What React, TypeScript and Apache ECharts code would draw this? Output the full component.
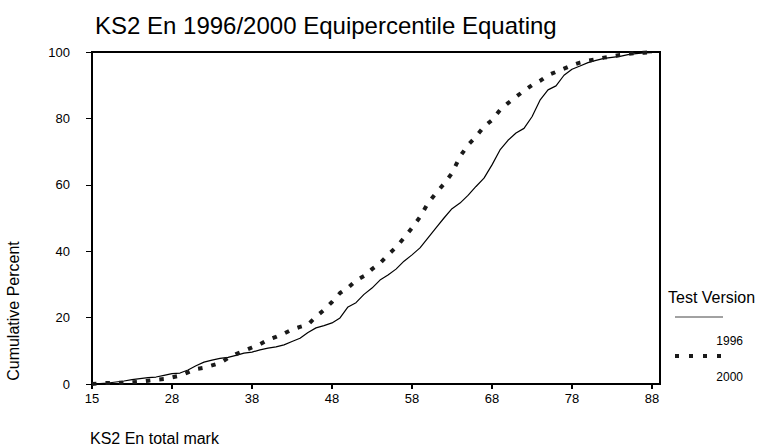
import React, { useEffect, useRef } from "react";
import * as echarts from "echarts";

const marks: string[] = ["15", ...Array.from({ length: 71 }, (_, i) => String(19 + i))];

const v1996: (number | null)[] = [
  0, 0.1, 0.3, 0.6, 0.9, 1.3, 1.6, 1.9, 2.1, 2.6, 3.1,
  3.3, 4.2, 5.5, 6.6, 7.2, 7.7, 8.0, 8.6, 9.3, 9.6,
  10.3, 10.8, 11.2, 11.8, 12.8, 13.8, 15.5, 16.9, 17.6, 18.4,
  19.9, 23.2, 24.5, 27.0, 28.9, 31.3, 32.8, 34.6, 37.0, 38.9,
  41.0, 44.0, 47.0, 50.0, 52.8, 54.5, 56.8, 59.5, 62.0, 66.0,
  70.5, 73.4, 75.6, 77.0, 80.5, 85.5, 88.6, 89.8, 93.0, 94.8,
  95.8, 96.8, 97.5, 98.1, 98.4, 98.7, 99.2, 99.5, 99.7, 99.8,
  null,
];

const v2000: (number | null)[] = [
  0, 0.2, 0.3, 0.4, 0.4, 0.5, 0.7, 1.0, 1.3, 1.5, 2.0,
  2.5, 3.5, 4.5, 4.9, 5.6, 6.3, 7.8, 9.0, 10.0, 11.0,
  12.0, 13.3, 14.2, 15.2, 16.4, 17.2, 17.9, 20.3, 22.3, 24.7,
  27.4, 29.0, 31.2, 32.5, 34.6, 36.4, 38.9, 41.2, 44.0, 47.0,
  50.3, 54.5, 57.5, 60.3, 63.5, 68.5, 72.0, 74.5, 77.5, 79.5,
  82.5, 84.6, 86.5, 88.3, 90.0, 91.3, 93.0, 94.0, 95.0, 96.0,
  96.8, 97.4, 97.8, 98.3, 98.7, 99.1, 99.4, 99.7, 99.8, 99.9,
  null,
];

const seriesNames = ["1996", "2000"];
const FONT = "Liberation Sans, Arial, sans-serif";

export default function App() {
  const ref = useRef<HTMLDivElement>(null);
  useEffect(() => {
    if (!ref.current) return;
    const chart = echarts.init(ref.current, null, { renderer: "svg" });
    chart.setOption({
      animation: false,
      backgroundColor: "#ffffff",
      textStyle: { fontFamily: FONT },
      title: {
        text: "KS2 En 1996/2000 Equipercentile Equating",
        left: 90,
        top: 8,
        textStyle: { fontFamily: FONT, fontSize: 24, fontWeight: "normal", color: "#000" },
      },
      grid: {
        left: 92,
        top: 52,
        right: 104,
        bottom: 64,
        show: true,
        borderColor: "#000",
        borderWidth: 2,
        backgroundColor: "transparent",
      },
      xAxis: {
        type: "category",
        data: marks,
        boundaryGap: false,
        axisLine: { lineStyle: { color: "#000", width: 2 } },
        axisTick: { interval: 9, length: 5, lineStyle: { color: "#000", width: 2 } },
        axisLabel: { interval: 9, color: "#000", fontSize: 13, fontFamily: FONT, margin: 8 },
        splitLine: { show: false },
      },
      yAxis: {
        type: "value",
        min: 0,
        max: 100,
        interval: 20,
        axisLine: { show: true, lineStyle: { color: "#000", width: 2 } },
        axisTick: { show: true, length: 6, lineStyle: { color: "#000", width: 1 } },
        axisLabel: { color: "#000", fontSize: 13, fontFamily: FONT, margin: 22 },
        splitLine: { show: false },
      },
      series: [
        {
          name: seriesNames[0],
          type: "line",
          data: v1996,
          showSymbol: false,
          symbol: "none",
          lineStyle: { color: "#000", width: 1.2, type: "solid" },
        },
        {
          name: seriesNames[1],
          type: "line",
          data: v2000,
          showSymbol: false,
          symbol: "none",
          lineStyle: { color: "#1a1a1a", width: 4, type: [4.5, 9] },
        },
      ],
      graphic: [
        {
          type: "text",
          x: 13,
          y: 311,
          rotation: Math.PI / 2,
          style: {
            text: "Cumulative Percent",
            fontSize: 16,
            fontFamily: FONT,
            fill: "#000",
            align: "center",
            verticalAlign: "middle",
          },
        },
        {
          type: "text",
          x: 90,
          y: 438,
          style: {
            text: "KS2 En total mark",
            fontSize: 16,
            fontFamily: FONT,
            fill: "#000",
            align: "left",
            verticalAlign: "middle",
          },
        },
        {
          type: "text",
          x: 668,
          y: 297,
          style: {
            text: "Test Version",
            fontSize: 16,
            fontFamily: FONT,
            fill: "#000",
            align: "left",
            verticalAlign: "middle",
          },
        },
        {
          type: "line",
          shape: { x1: 675, y1: 317, x2: 723, y2: 317 },
          style: { stroke: "#444", lineWidth: 1 },
        },
        {
          type: "text",
          x: 743,
          y: 341,
          style: {
            text: seriesNames[0],
            fontSize: 12,
            fontFamily: FONT,
            fill: "#000",
            align: "right",
            verticalAlign: "middle",
          },
        },
        {
          type: "line",
          shape: { x1: 675, y1: 356, x2: 724, y2: 356 },
          style: { stroke: "#1a1a1a", lineWidth: 4, lineDash: [4, 10] },
        },
        {
          type: "text",
          x: 743,
          y: 377,
          style: {
            text: seriesNames[1],
            fontSize: 12,
            fontFamily: FONT,
            fill: "#000",
            align: "right",
            verticalAlign: "middle",
          },
        },
      ],
    });
    return () => chart.dispose();
  }, []);
  return <div ref={ref} style={{ width: 764, height: 448, position: "absolute", left: 0, top: 0 }} />;
}
